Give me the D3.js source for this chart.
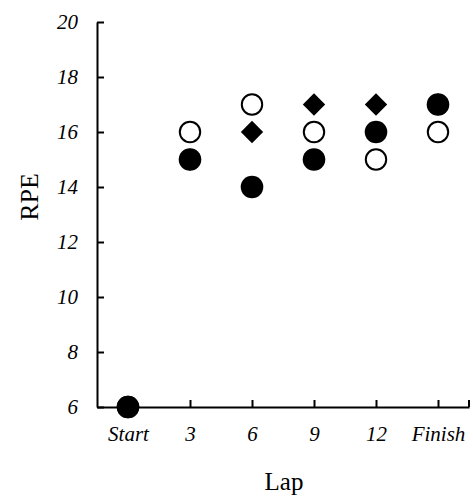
<!DOCTYPE html>
<html>
<head>
<meta charset="utf-8">
<script src="https://cdn.jsdelivr.net/npm/d3@7"></script>
<style>
  body { margin: 0; background: #fff; }
  text { font-family: "Liberation Serif", "Times New Roman", serif; fill: #000; }
</style>
</head>
<body>
<svg id="chart" width="473" height="498"></svg>
<script>
// data
const laps = ["Start", "3", "6", "9", "12", "Finish"];
const lapLabels = ["Start", "3", "6", "9", "12", "Finish"];
const filledCircle = [6, 15, 14, 15, 16, 17];
const openCircle = [6, 16, 17, 16, 15, 16];
const diamond = [6, 15, 16, 17, 17, 17];
const yTicks = [6, 8, 10, 12, 14, 16, 18, 20];

const svg = d3.select("#chart");

const plotLeft = 97, plotRight = 469, plotTop = 22, plotBottom = 407;

const x = d3.scalePoint().domain(laps).range([plotLeft, plotRight]).padding(0.5);
const y = d3.scaleLinear().domain([6, 20]).range([plotBottom, plotTop]);

// y axis, ticks pointing inward
const yAxis = svg.append("g")
  .attr("transform", `translate(${plotLeft},0)`)
  .call(d3.axisLeft(y).tickValues(yTicks).tickSizeInner(-7).tickSizeOuter(0).tickPadding(19));

// x axis
const xAxis = svg.append("g")
  .attr("transform", `translate(0,${plotBottom})`)
  .call(d3.axisBottom(x).tickFormat((d, i) => lapLabels[i]).tickSizeInner(-7).tickSizeOuter(0).tickPadding(19));

// small tick at the right end of the x axis
xAxis.append("line")
  .attr("x1", plotRight).attr("x2", plotRight)
  .attr("y1", 0).attr("y2", -7)
  .attr("stroke", "#000").attr("stroke-width", 2);

[yAxis, xAxis].forEach(g => {
  g.select(".domain").attr("stroke-width", 2);
  g.selectAll(".tick line").attr("stroke-width", 2);
  g.selectAll(".tick text")
    .attr("font-size", 21)
    .attr("font-style", "italic")
    .attr("font-family", "Liberation Serif, serif");
});

// axis titles
svg.append("text")
  .attr("transform", "translate(38,197) rotate(-90)")
  .attr("text-anchor", "middle")
  .attr("font-size", 26)
  .text("RPE");

svg.append("text")
  .attr("x", 284)
  .attr("y", 490)
  .attr("text-anchor", "middle")
  .attr("font-size", 25)
  .text("Lap");

// markers: diamonds underneath, then filled circles, then open circles
const diamondSym = d3.symbol().type(d3.symbolSquare).size(250);

svg.append("g").selectAll("path")
  .data(laps.map((l, i) => ({ lap: l, v: diamond[i] })))
  .enter().append("path")
  .attr("d", diamondSym)
  .attr("transform", d => `translate(${x(d.lap)},${y(d.v)}) rotate(45)`)
  .attr("fill", "#000");

svg.append("g").selectAll("circle")
  .data(laps.map((l, i) => ({ lap: l, v: filledCircle[i] })))
  .enter().append("circle")
  .attr("cx", d => x(d.lap))
  .attr("cy", d => y(d.v))
  .attr("r", 11.3)
  .attr("fill", "#000");

svg.append("g").selectAll("circle")
  .data(laps.map((l, i) => ({ lap: l, v: openCircle[i] })))
  .enter().append("circle")
  .attr("cx", d => x(d.lap))
  .attr("cy", d => y(d.v))
  .attr("r", 10.2)
  .attr("fill", "none")
  .attr("stroke", "#000")
  .attr("stroke-width", 2);
</script>
</body>
</html>
